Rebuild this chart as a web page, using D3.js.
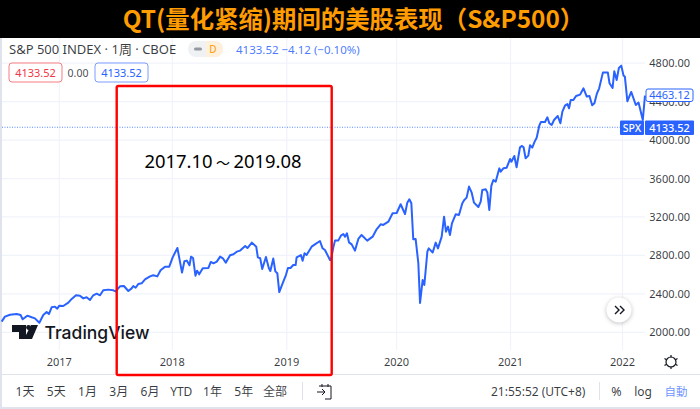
<!DOCTYPE html>
<html><head><meta charset="utf-8">
<script src="https://cdn.jsdelivr.net/npm/d3@7"></script>
<style>html,body{margin:0;padding:0;background:#fff}svg{display:block}text{font-family:"Noto Sans","Noto Sans CJK SC",sans-serif}</style>
</head><body><svg id="c" width="700" height="409"></svg>
<script>
const titleText = "QT(量化紧缩)期间的美股表现（S&P500）";
const annotationParts = ["2017.10","～","2019.08"];
const priceTicks = [2000,2400,2800,3200,3600,4000,4400,4800];
const yearTickLabels = ["2017","2018","2019","2020","2021","2022"];
const yearTickDates = [2017,2018.002,2019.016,2019.99,2021,2021.993];
const rangeButtons = ["1天","5天","1月","3月","6月","YTD","1年","5年","全部"];
const dates = [2016.489,2016.518,2016.563,2016.622,2016.657,2016.675,2016.716,2016.755,2016.784,2016.823,2016.858,2016.888,2016.908,2016.932,2016.962,2016.982,
2017,2017.035,2017.08,2017.11,2017.148,2017.183,2017.213,2017.242,2017.272,2017.301,2017.331,2017.361,2017.39,2017.434,2017.479,2017.499,2017.538,2017.573,2017.612,2017.641,2017.656,2017.677,2017.7,2017.73,2017.76,2017.804,2017.833,2017.869,2017.898,2017.937,2017.975,
2018.005,2018.047,2018.088,2018.109,2018.13,2018.154,2018.168,2018.186,2018.207,2018.222,2018.24,2018.272,2018.322,2018.343,2018.367,2018.396,2018.426,2018.45,2018.476,2018.514,2018.544,2018.573,2018.603,2018.648,2018.668,2018.707,2018.746,2018.76,2018.781,2018.799,2018.832,2018.858,2018.871,2018.897,2018.915,2018.933,2018.95,2018.986,
2019.009,2019.027,2019.05,2019.074,2019.095,2019.104,2019.142,2019.157,2019.174,2019.192,2019.237,2019.266,2019.311,2019.334,2019.355,2019.4,2019.408,2019.429,2019.444,2019.473,2019.497,2019.518,2019.533,2019.55,2019.568,2019.592,2019.621,2019.651,2019.68,2019.73,2019.778,2019.813,2019.849,2019.872,2019.917,2019.955,2019.991,
2020.026,2020.065,2020.085,2020.103,2020.121,2020.138,2020.159,2020.183,2020.198,2020.221,2020.236,2020.263,2020.275,2020.31,2020.337,2020.357,2020.39,2020.411,2020.428,2020.446,2020.463,2020.481,2020.514,2020.543,2020.573,2020.59,2020.611,2020.632,2020.656,2020.676,2020.715,2020.736,2020.75,2020.78,2020.795,2020.812,2020.83,2020.848,2020.869,2020.901,2020.913,2020.937,2020.966,2020.996,
2021.008,2021.034,2021.054,2021.084,2021.102,2021.116,2021.134,2021.158,2021.173,2021.193,2021.214,2021.232,2021.255,2021.27,2021.306,2021.327,2021.344,2021.365,2021.386,2021.419,2021.442,2021.46,2021.483,2021.504,2021.519,2021.534,2021.558,2021.581,2021.617,2021.647,2021.676,2021.7,2021.724,2021.744,2021.765,2021.786,2021.819,2021.863,2021.878,2021.905,2021.92,2021.941,2021.961,2021.982,
2022.002,2022.014,2022.036,2022.07,2022.111,2022.135,2022.173,2022.192];
const closes = [2111,2163,2183,2190,2180,2135,2173,2156,2145,2100,2180,2211,2190,2260,2267,2246,
2277,2274,2308,2347,2385,2381,2353,2364,2336,2385,2402,2385,2437,2444,2437,2426,2478,2482,2430,2457,2482,2464,2503,2510,2551,2582,2593,2582,2645,2683,2683,
2780,2877,2621,2739,2746,2697,2787,2773,2589,2641,2603,2666,2670,2732,2718,2735,2787,2770,2725,2801,2812,2839,2850,2898,2877,2933,2891,2780,2770,2659,2784,2666,2638,2767,2634,2614,2419,2527,
2596,2669,2669,2700,2700,2780,2804,2745,2822,2804,2891,2915,2950,2874,2856,2752,2752,2881,2954,2954,3006,3023,2995,3030,2936,2915,2850,2971,3013,2954,2995,3072,3124,3117,3151,3238,3241,
3332,3231,3349,3384,3342,2968,2971,2718,2305,2544,2492,2839,2873,2831,2933,2873,2995,3203,3047,3100,3012,3134,3228,3221,3342,3377,3401,3516,3453,3349,3304,3359,3481,3488,3453,3273,3523,3585,3568,3706,3671,3706,3713,3803,
3775,3835,3717,3925,3939,3925,3810,3838,3946,3922,3984,4025,4150,4188,4188,4237,4175,4157,4209,4251,4175,4296,4359,4376,4331,4418,4418,4459,4473,4539,4453,4459,4362,4383,4480,4539,4702,4702,4591,4542,4716,4625,4751,4775,
4673,4660,4404,4501,4365,4390,4209,4463];

const svg = d3.select("#c");
const x = d3.scaleLinear().domain([2017,2022]).range([59.3,623.3]);
const y = d3.scaleLinear().domain([2000,4800]).range([332.3,63.2]);
const blue="#2962ff", grey="#131722", gridC="#f0f3fa";

// page frame
svg.append("rect").attr("x",0).attr("y",38).attr("width",2).attr("height",371).attr("fill","#e0e3eb");
svg.append("rect").attr("x",0).attr("y",407).attr("width",700).attr("height",2).attr("fill","#e0e3eb");

// grid
svg.append("g").selectAll("line").data(priceTicks).join("line")
 .attr("x1",2).attr("x2",645).attr("y1",d=>y(d)).attr("y2",d=>y(d)).attr("stroke",gridC).attr("stroke-width",1.2);
svg.append("g").selectAll("line").data(yearTickDates).join("line")
 .attr("x1",d=>x(d)).attr("x2",d=>x(d)).attr("y1",38).attr("y2",350).attr("stroke",gridC).attr("stroke-width",1.2);
svg.append("line").attr("x1",2).attr("x2",700).attr("y1",374.5).attr("y2",374.5).attr("stroke","#e0e3eb");

// last price dotted
svg.append("line").attr("x1",2).attr("x2",620).attr("y1",y(4133.52)).attr("y2",y(4133.52))
 .attr("stroke",blue).attr("stroke-opacity",.75).attr("stroke-width",1).attr("stroke-dasharray","1 1.5");

// line
const line = d3.line().x((d,i)=>x(dates[i])).y(d=>y(d));
svg.append("path").attr("d",line(closes)).attr("fill","none").attr("stroke",blue).attr("stroke-width",2).attr("stroke-linejoin","round");

// axes labels
svg.append("g").selectAll("text").data(priceTicks).join("text")
 .attr("x",690).attr("y",d=>y(d)+4).attr("text-anchor","end").attr("font-size",11).attr("fill",grey).attr("fill-opacity",.85).text(d=>d.toFixed(2));
svg.append("g").selectAll("text").data(yearTickLabels).join("text")
 .attr("x",(d,i)=>x(yearTickDates[i])).attr("y",366).attr("text-anchor","middle").attr("font-size",11).attr("fill",grey).attr("fill-opacity",.85).text(d=>d);

// header
svg.append("rect").attr("width",700).attr("height",38).attr("fill","#000");
svg.append("text").attr("x",353.5).attr("y",27.5).attr("text-anchor","middle").attr("font-size",24.4).attr("font-weight",700)
 .attr("fill","#ff9c00").attr("style",'font-family:"Noto Sans CJK SC"').text(titleText);
svg.append("text").attr("x",9).attr("y",54).attr("font-size",13).attr("fill",grey).attr("fill-opacity",.85).text("S&P 500 INDEX · 1周 · CBOE");
svg.append("rect").attr("x",188).attr("y",41).attr("width",35).attr("height",16).attr("rx",8).attr("fill","#f0f1f3");
svg.append("path").attr("d","M206,41h9a8,8 0 0 1 0,16h-9z").attr("fill","#fff0dc");
svg.append("rect").attr("x",194).attr("y",47.5).attr("width",8).attr("height",3).attr("rx",1.5).attr("fill","#9598a1");
svg.append("text").attr("x",213).attr("y",53).attr("text-anchor","middle").attr("font-size",10).attr("fill","#ff9800").text("D");
svg.append("text").attr("x",236).attr("y",54).attr("font-size",11.5).attr("fill",blue).attr("fill-opacity",.85).text("4133.52  −4.12 (−0.10%)");

// value chips
svg.append("rect").attr("x",9).attr("y",63).attr("width",53).attr("height",19).attr("rx",3).attr("fill","#fff").attr("stroke","#f77c80");
svg.append("text").attr("x",35.5).attr("y",77).attr("text-anchor","middle").attr("font-size",11).attr("fill","#f23645").text("4133.52");
svg.append("text").attr("x",78).attr("y",77).attr("text-anchor","middle").attr("font-size",10.5).attr("fill",grey).attr("fill-opacity",.8).text("0.00");
svg.append("rect").attr("x",95).attr("y",63).attr("width",53).attr("height",19).attr("rx",3).attr("fill","#fff").attr("stroke","#7a9cff");
svg.append("text").attr("x",121.5).attr("y",77).attr("text-anchor","middle").attr("font-size",11).attr("fill",blue).text("4133.52");

// price labels
svg.append("rect").attr("x",646).attr("y",89).attr("width",47).attr("height",12.5).attr("rx",2).attr("fill","#fff").attr("stroke",blue);
svg.append("text").attr("x",669.5).attr("y",99.3).attr("text-anchor","middle").attr("font-size",11).attr("fill",blue).text("4463.12");
svg.append("rect").attr("x",620).attr("y",120.5).attr("width",24).attr("height",14.5).attr("rx",1).attr("fill",blue);
svg.append("rect").attr("x",645).attr("y",120.5).attr("width",49).attr("height",14.5).attr("rx",1).attr("fill",blue);
svg.append("text").attr("x",632).attr("y",132).attr("text-anchor","middle").attr("font-size",10.5).attr("font-weight",500).attr("fill","#fff").text("SPX");
svg.append("text").attr("x",669.5).attr("y",132).attr("text-anchor","middle").attr("font-size",11).attr("font-weight",500).attr("fill","#fff").text("4133.52");

// logo
svg.append("path").attr("d","M12,325h14v14h-7v-7h-7z M31,325h7l-6,14h-8z").attr("fill","#131722");
svg.append("circle").attr("cx",28.5).attr("cy",327.5).attr("r",2.4).attr("fill","#131722");
svg.append("text").attr("x",44.5).attr("y",339).attr("font-size",17.5).attr("font-weight",500).attr("fill","#131722").attr("style","font-family:Inter").text("TradingView");

// scroll button
svg.append("circle").attr("cx",619).attr("cy",310).attr("r",12.5).attr("fill","#fff").style("filter","drop-shadow(0 1px 2px rgba(0,0,0,.25))");
svg.append("path").attr("d","M615,306l4,4l-4,4M620,306l4,4l-4,4").attr("fill","none").attr("stroke","#131722").attr("stroke-width",1.4);

// settings gear
svg.append("circle").attr("cx",671).attr("cy",362).attr("r",5).attr("fill","none").attr("stroke",grey).attr("stroke-width",1.2);
svg.append("path").attr("d","M671,355v2.5M671,366.5v2.5M664.5,358.5l2,1.2M675.5,364.3l2,1.2M664.5,365.5l2,-1.2M675.5,359.7l2,-1.2")
 .attr("stroke",grey).attr("stroke-width",1.2);

// bottom toolbar
const btn = d3.scalePoint().domain(rangeButtons).range([25,275]);
svg.append("g").selectAll("text").data(rangeButtons).join("text")
 .attr("x",d=>btn(d)).attr("y",396).attr("text-anchor","middle").attr("font-size",12).attr("fill",grey).attr("fill-opacity",.85).text(d=>d);
svg.append("line").attr("x1",302.5).attr("x2",302.5).attr("y1",382).attr("y2",400).attr("stroke","#e0e3eb");
svg.append("path").attr("d","M319,386h12v13h-6M317,392h8M322,389l3,3l-3,3M322,384v3M328,384v3").attr("fill","none").attr("stroke",grey).attr("stroke-width",1);
svg.append("text").attr("x",491).attr("y",396).attr("font-size",12).attr("fill",grey).attr("fill-opacity",.85).text("21:55:52 (UTC+8)");
svg.append("line").attr("x1",599.5).attr("x2",599.5).attr("y1",382).attr("y2",400).attr("stroke","#e0e3eb");
svg.append("text").attr("x",616.5).attr("y",396).attr("text-anchor","middle").attr("font-size",12.5).attr("fill",grey).attr("fill-opacity",.85).text("%");
svg.append("text").attr("x",643).attr("y",396).attr("text-anchor","middle").attr("font-size",12).attr("fill",grey).attr("fill-opacity",.85).text("log");
svg.append("text").attr("x",676).attr("y",396).attr("text-anchor","middle").attr("font-size",11.5).attr("fill",blue).attr("fill-opacity",.7).text("自動");

// highlight box & annotation
svg.append("rect").attr("x",116.7).attr("y",86).attr("width",215).attr("height",289).attr("rx",1.5).attr("fill","none").attr("stroke","#fe0000").attr("stroke-width",2.4);
const ann = svg.append("text").attr("x",144.5).attr("y",168).attr("font-size",18.4).attr("fill","#000").attr("style",'font-family:"Noto Sans","Noto Sans CJK KR"');
ann.append("tspan").text(annotationParts[0]);
ann.append("tspan").attr("dx",3.5).attr("font-size",14).text(annotationParts[1]);
ann.append("tspan").attr("dx",3.5).text(annotationParts[2]);
</script></body></html>
